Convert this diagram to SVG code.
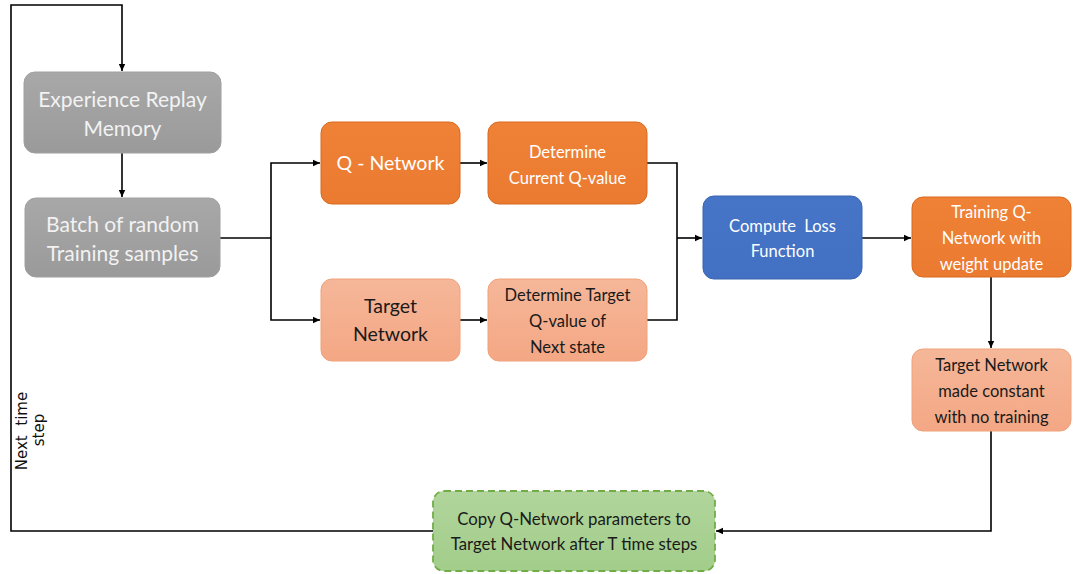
<svg xmlns="http://www.w3.org/2000/svg" width="1077" height="574" viewBox="0 0 1077 574">
<style>
.t{font-family:Lato,"Liberation Sans",sans-serif;text-anchor:middle}
.w{fill:#ffffff}
.g{fill:#f2f2f2}
.d{fill:#1a1a1a}
.c{fill:none;stroke:#000;stroke-width:1.6}
.lbl{font-family:"DejaVu Sans",sans-serif;font-size:15px;fill:#111}
</style>
<defs>
<linearGradient id="gGray" x1="0" y1="0" x2="0" y2="1"><stop offset="0" stop-color="#a8a8a8"/><stop offset="1" stop-color="#9a9a9a"/></linearGradient>
<linearGradient id="gOr" x1="0" y1="0" x2="0" y2="1"><stop offset="0" stop-color="#ef8236"/><stop offset="1" stop-color="#ea7a30"/></linearGradient>
<linearGradient id="gSal" x1="0" y1="0" x2="0" y2="1"><stop offset="0" stop-color="#f5b799"/><stop offset="1" stop-color="#f4a784"/></linearGradient>
<linearGradient id="gBl" x1="0" y1="0" x2="0" y2="1"><stop offset="0" stop-color="#4675c8"/><stop offset="1" stop-color="#4270c2"/></linearGradient>
<linearGradient id="gGr" x1="0" y1="0" x2="0" y2="1"><stop offset="0" stop-color="#b1d59c"/><stop offset="1" stop-color="#a2cd8a"/></linearGradient>
<marker id="ah" markerWidth="8" markerHeight="8" refX="7" refY="4" orient="auto" markerUnits="userSpaceOnUse"><path d="M0,0.8 L7,4 L0,7.2 Z" fill="#000"/></marker>
</defs>

<g id="connectors">
<path class="c" d="M433,531 H11 V5 H122 V71" marker-end="url(#ah)"/>
<path class="c" d="M122,153 V197" marker-end="url(#ah)"/>
<path class="c" d="M220,238 H271"/>
<path class="c" d="M271,238 V163 H320" marker-end="url(#ah)"/>
<path class="c" d="M271,238 V320 H320" marker-end="url(#ah)"/>
<path class="c" d="M460,163 H487" marker-end="url(#ah)"/>
<path class="c" d="M460,320 H487" marker-end="url(#ah)"/>
<path class="c" d="M647,163 H677 V320 H647"/>
<path class="c" d="M677,238 H702" marker-end="url(#ah)"/>
<path class="c" d="M862,238 H911" marker-end="url(#ah)"/>
<path class="c" d="M991,277 V348" marker-end="url(#ah)"/>
<path class="c" d="M991,431 V531 H716" marker-end="url(#ah)"/>
</g>

<g id="next-time-step">
<text class="lbl" transform="translate(27,431) rotate(-90)" text-anchor="middle" xml:space="preserve">Next  time</text>
<text class="lbl" transform="translate(44,430) rotate(-90)" text-anchor="middle">step</text>
</g>

<g id="experience-replay">
<rect x="24" y="72" width="197" height="81" rx="11" fill="url(#gGray)" stroke="#a0a0a0"/>
<text class="t g" font-size="21" x="122.5" y="106.5">Experience Replay</text>
<text class="t g" font-size="21" x="122.5" y="135.5">Memory</text>
</g>

<g id="batch">
<rect x="25" y="198" width="195" height="79" rx="11" fill="url(#gGray)" stroke="#a0a0a0"/>
<text class="t g" font-size="21" x="122.5" y="231.5">Batch of random</text>
<text class="t g" font-size="21" x="122.5" y="260.5">Training samples</text>
</g>

<g id="q-network">
<rect x="321" y="122" width="139" height="82" rx="11" fill="url(#gOr)" stroke="#d9691f"/>
<text class="t w" font-size="19.5" x="390.5" y="170">Q - Network</text>
</g>

<g id="determine-current">
<rect x="488" y="122" width="159" height="82" rx="11" fill="url(#gOr)" stroke="#d9691f"/>
<text class="t w" font-size="16.5" x="567.5" y="158">Determine</text>
<text class="t w" font-size="16.5" x="567.5" y="184">Current Q-value</text>
</g>

<g id="target-network">
<rect x="321" y="279" width="139" height="82" rx="11" fill="url(#gSal)" stroke="#f0a27a"/>
<text class="t d" font-size="19.5" x="390.5" y="313">Target</text>
<text class="t d" font-size="19.5" x="390.5" y="341">Network</text>
</g>

<g id="determine-target">
<rect x="488" y="279" width="159" height="82" rx="11" fill="url(#gSal)" stroke="#f0a27a"/>
<text class="t d" font-size="16.5" x="567.5" y="301">Determine Target</text>
<text class="t d" font-size="16.5" x="567.5" y="327">Q-value of</text>
<text class="t d" font-size="16.5" x="567.5" y="353">Next state</text>
</g>

<g id="compute-loss">
<rect x="703" y="196" width="159" height="83" rx="11" fill="url(#gBl)" stroke="#3a64b0"/>
<text class="t w" font-size="16.5" x="782.5" y="232" xml:space="preserve">Compute  Loss</text>
<text class="t w" font-size="16.5" x="782.5" y="257">Function</text>
</g>

<g id="training-q">
<rect x="912" y="197" width="159" height="80" rx="11" fill="url(#gOr)" stroke="#d9691f"/>
<text class="t w" font-size="16.5" x="991.5" y="218">Training Q-</text>
<text class="t w" font-size="16.5" x="991.5" y="244">Network with</text>
<text class="t w" font-size="16.5" x="991.5" y="270">weight update</text>
</g>

<g id="target-constant">
<rect x="912" y="349" width="159" height="82" rx="11" fill="url(#gSal)" stroke="#f0a27a"/>
<text class="t d" font-size="16.5" x="991.5" y="371">Target Network</text>
<text class="t d" font-size="16.5" x="991.5" y="397">made constant</text>
<text class="t d" font-size="16.5" x="991.5" y="423">with no training</text>
</g>

<g id="copy-params">
<rect x="433" y="491" width="282" height="80" rx="11" fill="url(#gGr)" stroke="#70ad47" stroke-width="1.8" stroke-dasharray="7,4"/>
<text class="t d" font-size="16.8" x="574" y="525">Copy Q-Network parameters to</text>
<text class="t d" font-size="16.8" x="574" y="550">Target Network after T time steps</text>
</g>
</svg>
